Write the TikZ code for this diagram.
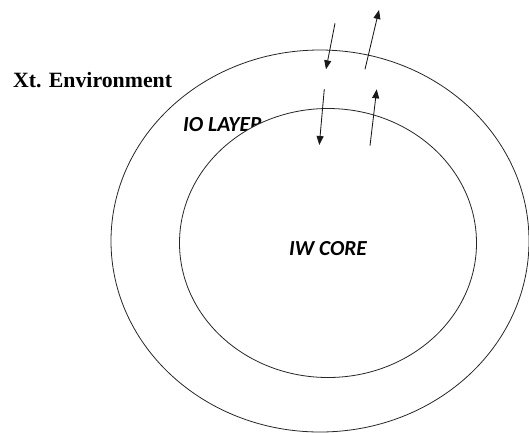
\documentclass[tikz,border=0pt]{standalone}
\usepackage{fontspec}
\setmainfont{Liberation Serif}
\newfontfamily\calib{Carlito}
\usetikzlibrary{shapes.geometric,arrows.meta}
\begin{document}
\begin{tikzpicture}[x=1pt,y=-1pt,
  ring/.style={draw=black!85, line width=0.8pt, ellipse, inner sep=0pt},
  flow/.style={draw=black!90, line width=0.85pt, -{Triangle[length=9pt,width=7pt]}},
  lbl/.style={inner sep=0pt, anchor=base west}]
\useasboundingbox (0,0) rectangle (529,432);
\node[ring, minimum width=418pt, minimum height=382pt] (outer) at (320,241) {};
\node[lbl, font=\calib\bfseries\itshape\fontsize{21.5}{23}\selectfont] (io) at (183,131) {IO LAYER};
\node[ring, fill=white, minimum width=297pt, minimum height=269pt] (inner) at (328,243) {};
\node[lbl, font=\calib\bfseries\itshape\fontsize{21.4}{23}\selectfont] (core) at (289,255) {IW CORE};
\node[lbl, font=\bfseries\fontsize{21.8}{24}\selectfont] (env) at (13,87.3) {Xt. Environment};
\coordinate (a1) at (335,23.3);
\coordinate (a2) at (326,69.3);
\coordinate (b1) at (365,69.3);
\coordinate (b2) at (379,10);
\coordinate (c1) at (324.3,89);
\coordinate (c2) at (319.3,145);
\coordinate (d1) at (370,145.7);
\coordinate (d2) at (376.7,89.3);
\draw[flow] (a1) -- (a2);
\draw[flow] (b1) -- (b2);
\draw[flow] (c1) -- (c2);
\draw[flow] (d1) -- (d2);
\end{tikzpicture}
\end{document}
